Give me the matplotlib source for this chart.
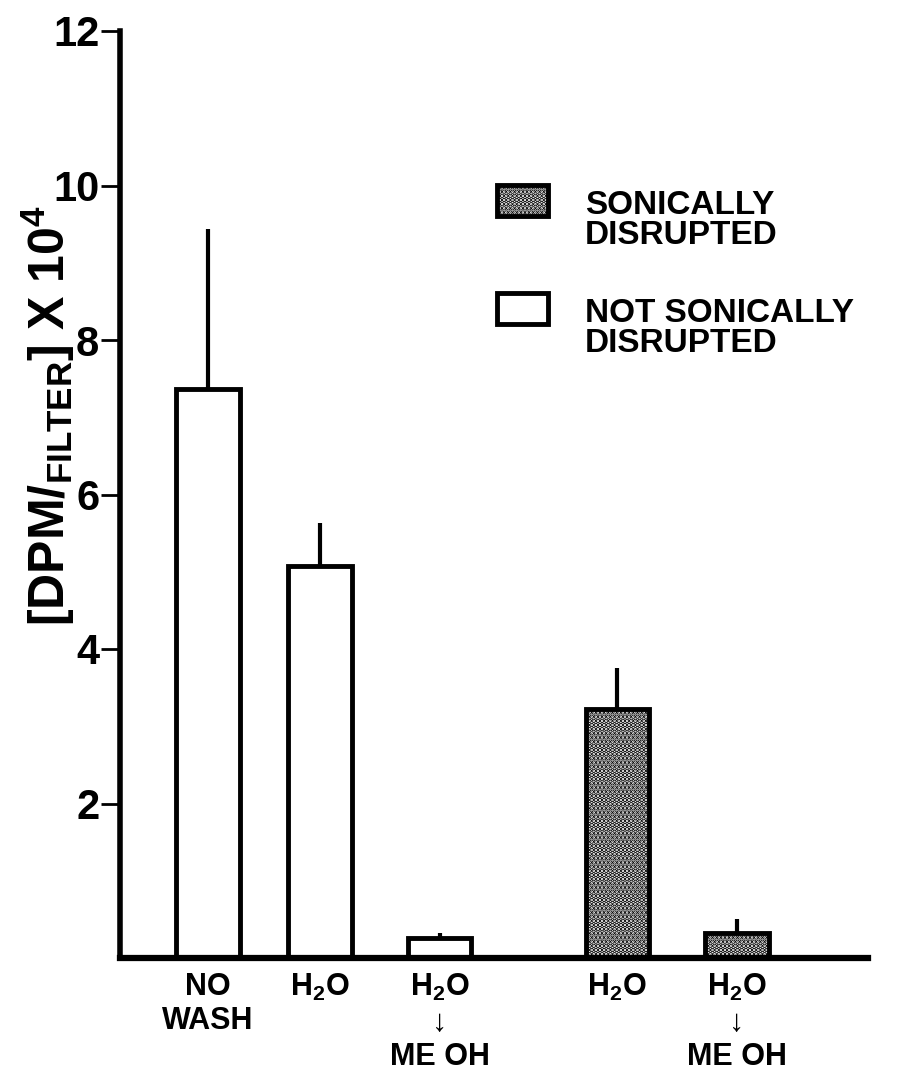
import matplotlib
matplotlib.use("Agg")
import matplotlib.pyplot as plt
from matplotlib.patches import Rectangle

# bar values (DPM/filter x 10^4)
labels = ["NO\nWASH", "H$_2$O", "H$_2$O\n↓\nME OH", "H$_2$O", "H$_2$O\n↓\nME OH"]
positions = [0, 0.99, 2.05, 3.62, 4.68]
values = [7.37, 5.08, 0.26, 3.22, 0.32]
err_top = [9.44, 5.63, 0.33, 3.75, 0.50]
sonic = [False, False, False, True, True]

yticks = [2, 4, 6, 8, 10, 12]
legend_labels = ["SONICALLY\nDISRUPTED", "NOT SONICALLY\nDISRUPTED"]

fam = ["Liberation Sans", "DejaVu Sans"]
plt.rcParams["font.family"] = fam
plt.rcParams["font.weight"] = "bold"
plt.rcParams["mathtext.fontset"] = "custom"
plt.rcParams["mathtext.rm"] = "Liberation Sans:bold"
plt.rcParams["mathtext.default"] = "rm"
plt.rcParams["hatch.linewidth"] = 2.4

W, H = 897, 1076
fig = plt.figure(figsize=(W / 100, H / 100), dpi=100)
ax = fig.add_axes([120 / W, 1 - 958 / H, 748 / W, 927 / H])

stipple = "...."
for x, v, s in zip(positions, values, sonic):
    ax.bar(x, v, width=0.56, facecolor="white", edgecolor="black",
           linewidth=3.5, hatch=stipple if s else None, zorder=2)

ax.vlines(positions, values, err_top, color="black", linewidth=3, zorder=3)

ax.set_xlim(-0.78, 5.84)
ax.set_ylim(0, 12)
ax.spines["top"].set_visible(False)
ax.spines["right"].set_visible(False)
ax.spines["left"].set_linewidth(4)
ax.spines["bottom"].set_linewidth(4.5)

ax.set_yticks(yticks)
ax.set_yticklabels([str(t) for t in yticks], fontsize=30, fontweight="bold")
ax.tick_params(axis="y", direction="out", length=14, width=2, pad=1)
ax.set_xticks(positions)
ax.set_xticklabels(labels, fontsize=22, fontweight="bold", linespacing=1.2,
                   va="top")
ax.tick_params(axis="x", length=0, pad=10)

ax.set_ylabel(r"[DPM/$_{FILTER}$] X 10$^4$", fontsize=36, fontweight="bold")
ax.yaxis.set_label_coords(-0.058, 0.585)

# legend drawn by hand so the swatch sits beside the first text line
swatches = [(497, 185, True), (497, 293, False)]
for (px, py, s), lab in zip(swatches, legend_labels):
    fig.add_artist(Rectangle((px / W, 1 - (py + 31) / H), 51 / W, 31 / H,
                             transform=fig.transFigure, facecolor="white",
                             edgecolor="black", linewidth=3.5,
                             hatch=stipple if s else None))
    fig.text(585 / W, 1 - (py + 5) / H, lab, fontsize=24, fontweight="bold",
             va="top", ha="left", linespacing=0.95)

fig.savefig("out.png", dpi=100)
